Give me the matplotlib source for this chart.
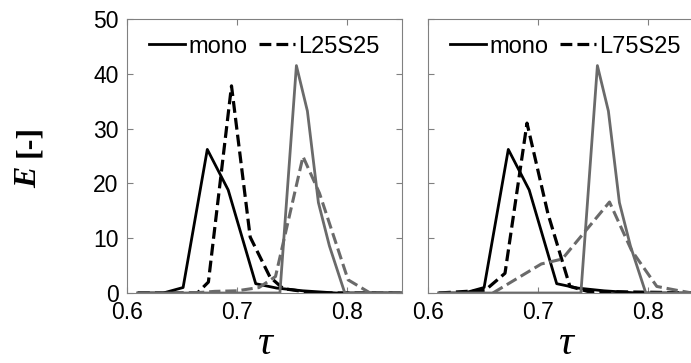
import matplotlib
matplotlib.use("Agg")
import matplotlib.pyplot as plt

plt.rcParams['font.family'] = ['Liberation Sans', 'DejaVu Sans']

# mono reference curves (same in both panels)
tau_mono_a = [0.61, 0.633, 0.651, 0.673, 0.692, 0.717, 0.736, 0.76, 0.79, 0.85]
E_mono_a = [0, 0, 1.0, 26.2, 18.8, 1.7, 0.9, 0.4, 0, 0]
tau_mono_b = [0.61, 0.739, 0.754, 0.764, 0.774, 0.784, 0.798, 0.85]
E_mono_b = [0, 0, 41.5, 33.2, 16.5, 8.6, 0, 0]

# L25S25
tau_l25_a = [0.61, 0.664, 0.674, 0.695, 0.712, 0.730, 0.742, 0.77, 0.85]
E_l25_a = [0, 0, 2.0, 37.8, 10.2, 2.9, 0.8, 0, 0]
tau_l25_b = [0.66, 0.68, 0.70, 0.72, 0.735, 0.760, 0.775, 0.801, 0.821, 0.85]
E_l25_b = [0, 0.3, 0.4, 1.0, 3.0, 24.9, 18.2, 2.4, 0, 0]

# L75S25
tau_l75_a = [0.61, 0.652, 0.670, 0.690, 0.709, 0.729, 0.745, 0.85]
E_l75_a = [0, 0.5, 3.6, 31.0, 14.5, 1.2, 0.3, 0]
tau_l75_b = [0.659, 0.703, 0.722, 0.765, 0.785, 0.808, 0.826, 0.84, 0.85]
E_l75_b = [0, 5.3, 6.2, 16.6, 7.8, 1.2, 0.5, 0, 0]

panels = [
    ("L25S25", tau_l25_a, E_l25_a, tau_l25_b, E_l25_b),
    ("L75S25", tau_l75_a, E_l75_a, tau_l75_b, E_l75_b),
]

grey = '#6a6a6a'
frame = '#808080'

fig = plt.figure(figsize=(6.91, 3.63), dpi=100)
lefts = [127 / 691, 428 / 691]
w = 275 / 691
b = 70 / 363
h = 274 / 363

for i, (name, ta, ea, tb, eb) in enumerate(panels):
    ax = fig.add_axes([lefts[i], b, w, h])
    l1, = ax.plot(tau_mono_a, E_mono_a, '-', color='black', lw=2, label='mono')
    l2, = ax.plot(ta, ea, '--', color='black', lw=2.3, label=name)
    ax.plot(tau_mono_b, E_mono_b, '-', color=grey, lw=2)
    ax.plot(tb, eb, '--', color=grey, lw=2.2)

    ax.set_xlim(0.6, 0.85)
    ax.set_ylim(0, 50)
    ax.set_xticks([0.6, 0.7, 0.8])
    ax.set_yticks([0, 10, 20, 30, 40, 50])
    ax.tick_params(direction='in', top=True, right=True, length=4,
                   color=frame, labelsize=16.5, pad=6)
    for sp in ax.spines.values():
        sp.set_color(frame)
    if i == 1:
        ax.set_yticklabels([])

    ax.legend(handles=[l1, l2], loc='upper center', ncol=2, frameon=False,
              fontsize=17, handlelength=1.5, handletextpad=0.15,
              columnspacing=0.5, borderaxespad=0.3)
    ax.set_xlabel('τ', fontsize=30, family='Liberation Serif', style='italic',
                  labelpad=0)

# y label: bold italic E, upright bold unit
fig.text(29 / 691, 1 - 177 / 363, 'E', rotation=90, ha='center', va='center',
         fontsize=23, family='Liberation Serif', fontweight='bold', style='italic')
fig.text(29 / 691, 1 - 141 / 363, '[-]', rotation=90, ha='center', va='center',
         fontsize=23, family='Liberation Serif', fontweight='bold')

fig.savefig('out.png', dpi=100)
